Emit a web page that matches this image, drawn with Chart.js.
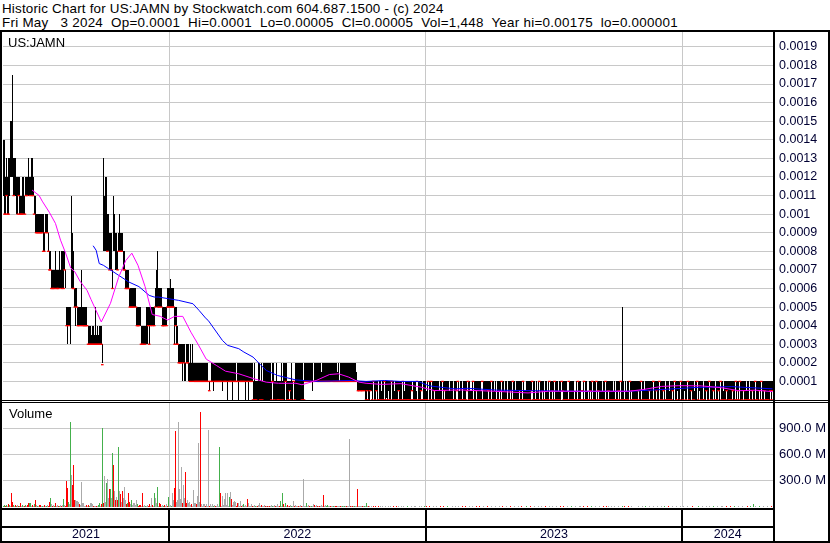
<!DOCTYPE html>
<html>
<head>
<meta charset="utf-8">
<script src="https://cdn.jsdelivr.net/npm/chart.js@4.4.1/dist/chart.umd.min.js"></script>
<style>
  body { margin: 0; background: #fff; }
  #wrap { position: relative; width: 830px; height: 543px; overflow: hidden; font-family: "Liberation Sans", Arial, sans-serif; }
  .tl { position: absolute; left: 2px; font-size: 13.4px; line-height: 13.5px; white-space: pre; color: #000; }
  .ln { position: absolute; background: #000; z-index: 4; }
  .lbl { position: absolute; font-size: 13px; line-height: 13px; color: #000; z-index: 3; }
  canvas { position: absolute; left: 0; }
</style>
</head>
<body>
<div id="wrap">
  <div class="tl" style="top:2px;letter-spacing:0.19px">Historic Chart for US:JAMN by Stockwatch.com 604.687.1500 - (c) 2024</div>
  <div class="tl" style="top:15.5px;letter-spacing:0.27px">Fri May   3 2024  Op=0.0001  Hi=0.0001  Lo=0.00005  Cl=0.00005  Vol=1,448  Year hi=0.00175  lo=0.000001</div>
  <canvas id="price" width="830" height="368" style="top:32px"></canvas>
  <canvas id="vol" width="830" height="140" style="top:403px"></canvas>
  <div class="lbl" style="left:8px;top:36px">US:JAMN</div>
  <div class="lbl" style="left:9px;top:407px">Volume</div>
  <div class="ln" style="left:0;top:30px;width:830px;height:2px"></div>
  <div class="ln" style="left:0;top:30px;width:2px;height:513px"></div>
  <div class="ln" style="left:828px;top:30px;width:2px;height:513px"></div>
  <div class="ln" style="left:773px;top:30px;width:2px;height:513px"></div>
  <div class="ln" style="left:0;top:400px;width:830px;height:1px"></div>
  <div class="ln" style="left:0;top:402px;width:830px;height:1px"></div>
  <div class="ln" style="left:0;top:541px;width:830px;height:2px"></div>
</div>
<script>
// prices in units of 0.00001, one entry per trading day (late Apr 2021 .. May 3 2024)
const UNIT = 0.00001;

const hi = [
  140,140,120,130,120,130,130,150,150,175,130,130,130,120,120,120,120,110,110,120,
  120,110,120,120,120,130,120,130,130,120,110,110,100,100,100,100,100,100,100,100,
  90,100,100,100,90,80,80,70,70,70,70,80,70,70,70,80,70,80,80,80,
  80,70,50,50,50,50,50,110,90,80,60,60,60,50,50,50,50,70,50,50,
  50,50,40,40,40,40,35,40,40,35,50,35,40,35,40,40,40,30,130,110,
  120,120,100,100,90,90,90,70,110,100,90,90,80,90,100,90,90,90,80,80,
  70,70,70,70,60,60,60,60,60,60,60,50,50,50,50,40,40,40,40,40,
  50,50,50,50,50,50,50,50,50,60,70,80,60,60,60,60,50,50,50,50,
  50,60,60,60,65,60,60,60,50,50,50,40,30,30,30,30,30,30,30,20,
  30,30,30,20,30,20,30,20,20,20,20,20,20,20,20,20,20,20,20,20,
  20,10,10,10,20,20,20,20,20,20,20,20,20,20,20,20,20,20,20,20,
  20,20,20,20,20,20,20,20,20,10,20,20,20,20,20,20,20,20,20,20,
  20,20,20,20,20,10,20,10,10,10,20,20,10,20,10,20,20,20,20,20,
  20,20,20,10,20,20,10,10,20,10,10,10,10,20,10,20,20,20,20,10,
  10,10,10,20,10,10,10,20,20,20,20,20,20,20,20,10,20,20,20,20,
  20,20,20,20,10,20,20,20,20,20,20,20,15,20,20,20,20,20,20,20,
  20,20,20,20,20,20,20,20,15,20,10,20,20,20,20,20,20,20,20,20,
  20,20,20,20,20,20,20,15,10,10,10,10,10,10,10,10,10,10,10,10,
  10,10,10,10,10,10,10,10,0.1,10,10,5,10,10,10,10,10,10,10,10,
  10,10,10,10,5,10,10,10,10,10,10,10,10,10,5,10,10,10,10,10,
  10,10,0.1,10,10,5,10,10,10,10,10,0.1,10,10,10,5,10,10,10,10,
  10,10,10,10,10,10,10,10,5,10,10,10,10,10,10,10,10,10,5,10,
  10,10,0.1,10,10,10,10,10,5,10,10,0.1,10,10,10,10,10,10,10,5,
  10,10,10,10,10,10,10,10,10,5,10,10,10,10,10,10,10,10,10,10,
  10,10,5,10,0.1,10,10,10,10,10,10,10,5,10,10,0.1,10,10,10,10,
  10,10,10,5,10,10,10,10,10,10,10,10,5,10,10,10,10,10,10,10,
  10,10,0.1,10,5,10,10,10,10,10,10,0.1,10,10,5,10,10,10,10,10,
  10,10,10,10,10,5,10,10,10,10,10,10,10,10,5,10,10,10,10,10,
  10,0.1,5,10,10,10,10,0.1,5,10,10,10,10,5,0.1,10,10,10,10,10,
  10,10,10,10,10,10,10,10,5,10,10,10,10,10,10,10,10,10,10,5,
  10,0.1,10,10,10,10,10,10,50,10,0.1,10,5,10,10,10,10,10,10,10,
  10,10,10,10,10,10,10,10,10,5,10,10,10,10,10,10,10,10,10,10,
  10,10,10,10,10,10,10,10,10,10,0.1,10,10,10,5,10,10,10,10,10,
  10,10,10,10,10,10,10,10,10,10,10,10,10,10,10,10,10,10,5,10,
  10,10,10,10,10,10,10,0.1,10,10,10,10,10,10,10,10,10,10,10,0.1,
  10,10,10,10,10,10,10,5,10,10,10,10,10,10,10,10,10,10,10,10,
  10,10,10,10,10,10,10,10,10,5,10,10,0.1,10,10,10,10,10,10,10,
  10,10,10,10,10,10,10,10,10,10,10,10,10,10,10,10
];

const lo = [
  110,100,100,110,100,100,110,120,120,120,110,110,110,100,100,110,100,100,100,100,
  100,100,110,110,110,110,110,110,110,110,100,90,90,90,90,90,90,90,90,80,
  80,90,90,90,80,70,70,60,60,60,60,60,60,60,60,60,60,60,60,60,
  70,60,40,30,40,40,30,60,60,60,50,40,50,40,40,40,40,40,40,40,
  40,40,40,30,30,30,30,30,30,30,30,30,30,30,30,30,30,20,80,80,
  80,80,80,80,70,70,70,60,80,80,70,70,70,80,80,80,80,80,70,70,
  60,60,60,60,50,50,50,50,50,50,50,40,40,40,40,30,30,30,30,30,
  30,30,40,30,40,40,40,40,40,50,50,50,50,50,50,50,40,40,40,40,
  40,50,50,50,50,50,50,50,30,40,30,30,20,20,20,20,10,20,10,10,
  20,20,10,10,10,10,10,10,10,10,10,10,10,10,10,10,10,10,10,10,
  10,10,5,10,10,10,5,10,10,10,10,10,10,10,10,5,10,10,10,10,
  0.1,10,10,10,10,0.1,10,10,10,10,10,0.1,10,10,10,10,10,10,0.1,10,
  10,0.1,10,10,10,0.1,0.1,0.1,0.1,0.1,0.1,0.1,0.1,0.1,0.1,0.1,0.1,0.1,0.1,0.1,
  0.1,0.1,0.1,0.1,10,0.1,0.1,0.1,0.1,0.1,0.1,0.1,0.1,0.1,0.1,0.1,0.1,10,0.1,0.1,
  0.1,5,0.1,0.1,0.1,10,0.1,0.1,0.1,0.1,0.1,0.1,0.1,0.1,0.1,0.1,10,10,10,10,
  10,10,10,5,10,10,10,10,10,10,10,10,10,10,10,10,10,10,10,10,
  10,10,10,10,10,10,10,10,10,10,10,10,10,10,10,10,10,10,10,10,
  10,10,10,10,10,10,10,10,5,5,5,5,5,5,5,0.1,0.1,5,0.1,0.1,
  5,5,0.1,10,0.1,0.1,5,0.1,0.1,0.1,0.1,0.1,0.1,0.1,10,0.1,1,0.1,5,0.1,
  0.1,10,0.1,0.1,0.1,0.1,0.1,0.1,5,0.1,0.1,0.1,10,0.1,0.1,0.1,0.1,0.1,0.1,0.1,
  0.1,5,0.1,0.1,0.1,0.1,10,0.1,0.1,0.1,5,0.1,0.1,0.1,0.1,0.1,0.1,10,0.1,0.1,
  10,0.1,0.1,5,0.1,0.1,0.1,0.1,0.1,0.1,0.1,10,0.1,5,0.1,0.1,0.1,0.1,0.1,0.1,
  0.1,0.1,0.1,0.1,0.1,5,10,0.1,0.1,0.1,0.1,0.1,0.1,0.1,0.1,5,10,0.1,0.1,0.1,
  0.1,10,0.1,0.1,5,0.1,0.1,0.1,0.1,0.1,10,0.1,0.1,0.1,0.1,0.1,5,0.1,0.1,10,
  0.1,0.1,0.1,0.1,0.1,0.1,0.1,5,0.1,10,0.1,0.1,0.1,0.1,0.1,0.1,0.1,0.1,5,0.1,
  10,0.1,0.1,0.1,0.1,0.1,0.1,5,0.1,0.1,10,0.1,0.1,0.1,0.1,0.1,0.1,0.1,5,10,
  0.1,0.1,0.1,0.1,0.1,0.1,10,0.1,0.1,5,0.1,0.1,0.1,0.1,0.1,0.1,10,0.1,0.1,5,
  0.1,10,0.1,0.1,0.1,0.1,0.1,0.1,10,5,0.1,0.1,0.1,0.1,0.1,10,0.1,0.1,0.1,0.1,
  0.1,0.1,0.1,0.1,10,0.1,0.1,0.1,5,0.1,10,0.1,0.1,0.1,0.1,0.1,5,0.1,10,0.1,
  0.1,0.1,10,0.1,5,0.1,0.1,0.1,0.1,0.1,0.1,10,0.1,0.1,5,0.1,0.1,0.1,0.1,0.1,
  0.1,0.1,0.1,0.1,5,0.1,10,0.1,0.1,0.1,0.1,0.1,0.1,0.1,0.1,10,0.1,5,0.1,0.1,
  0.1,0.1,0.1,5,0.1,0.1,10,0.1,0.1,0.1,0.1,0.1,0.1,0.1,5,0.1,0.1,0.1,10,0.1,
  0.1,5,0.1,0.1,10,0.1,0.1,0.1,5,0.1,0.1,0.1,0.1,0.1,0.1,0.1,0.1,5,0.1,10,
  0.1,0.1,5,0.1,0.1,10,0.1,0.1,0.1,5,0.1,0.1,10,0.1,0.1,5,0.1,0.1,0.1,0.1,
  0.1,10,0.1,5,0.1,0.1,0.1,0.1,0.1,0.1,5,0.1,0.1,10,0.1,0.1,0.1,5,0.1,0.1,
  0.1,0.1,5,0.1,10,0.1,0.1,0.1,0.1,0.1,5,0.1,0.1,0.1,0.1,0.1,5,0.1,0.1,10,
  0.1,5,0.1,10,0.1,0.1,0.1,5,0.1,0.1,0.1,0.1,0.1,0.1,0.1,5,0.1,0.1,10,0.1,
  0.1,0.1,5,0.1,10,0.1,0.1,5,0.1,0.1,0.1,0.1,0.1,5,0.1,5
];

const cl = [
  120,100,100,110,100,100,120,130,130,130,110,120,120,110,100,110,100,100,100,100,
  110,100,110,110,120,120,110,120,110,110,100,100,90,90,90,90,90,90,90,80,
  80,90,95,90,80,70,70,60,60,60,60,70,60,60,60,70,70,60,70,60,
  70,70,40,40,40,50,40,70,60,60,50,50,50,40,40,50,40,50,40,40,
  40,40,40,30,30,30,30,30,30,30,30,30,30,30,30,30,30,19,90,90,
  100,90,80,90,70,80,70,60,100,90,80,80,70,80,90,80,80,90,70,70,
  60,60,60,60,50,50,50,50,50,60,50,40,40,40,50,30,30,30,40,30,
  40,40,40,30,40,50,40,50,40,50,60,60,50,50,60,50,40,40,40,50,
  40,50,50,50,50,50,50,50,30,40,30,30,20,20,20,20,20,20,20,20,
  20,20,20,10,20,10,20,10,10,10,10,10,10,10,10,10,10,10,10,10,
  10,10,5,10,10,10,10,10,10,10,10,10,10,10,10,10,10,10,10,10,
  10,10,10,10,10,10,10,10,10,10,10,10,10,10,10,10,10,10,10,10,
  10,10,10,10,10,0.1,10,0.1,0.1,5,10,10,0.1,10,0.1,10,10,10,10,10,
  10,10,10,0.1,10,10,0.1,5,10,0.1,0.1,5,0.1,10,0.1,10,10,10,10,0.1,
  0.1,5,0.1,10,5,10,0.1,10,10,10,10,10,10,0.1,10,0.1,10,10,10,10,
  10,10,10,10,10,10,10,20,10,10,10,10,10,10,10,10,10,10,10,10,
  10,10,15,10,10,10,10,10,10,10,10,10,10,10,10,10,10,10,10,10,
  10,10,10,10,10,10,10,10,5,5,10,5,5,10,5,5,0.1,5,0.1,5,
  5,10,0.1,10,5,0.1,5,10,0.1,0.1,5,0.1,10,0.1,10,0.1,5,0.1,10,0.1,
  0.1,10,5,0.1,0.1,10,0.1,0.1,5,0.1,5,0.1,10,0.1,0.1,5,0.1,0.1,0.1,5,
  0.1,5,0.1,0.1,5,0.1,10,0.1,10,0.1,5,0.1,0.1,5,0.1,0.1,0.1,10,5,0.1,
  10,0.1,5,5,0.1,0.1,0.1,10,0.1,0.1,5,10,0.1,5,0.1,0.1,0.1,5,0.1,0.1,
  0.1,5,0.1,0.1,0.1,5,10,0.1,0.1,5,0.1,0.1,0.1,5,0.1,5,10,0.1,0.1,0.1,
  0.1,10,0.1,5,5,0.1,0.1,0.1,0.1,0.1,10,0.1,5,0.1,0.1,0.1,5,0.1,0.1,10,
  0.1,0.1,0.1,5,0.1,0.1,0.1,5,0.1,10,0.1,5,0.1,0.1,0.1,0.1,0.1,0.1,5,0.1,
  10,0.1,0.1,0.1,5,0.1,0.1,5,0.1,0.1,10,0.1,0.1,0.1,5,0.1,0.1,0.1,5,10,
  0.1,0.1,0.1,0.1,0.1,0.1,10,0.1,5,5,0.1,0.1,0.1,0.1,0.1,0.1,10,0.1,0.1,5,
  0.1,10,0.1,0.1,0.1,0.1,0.1,5,10,5,0.1,0.1,0.1,0.1,0.1,10,0.1,0.1,0.1,0.1,
  0.1,0.1,0.1,0.1,10,0.1,0.1,0.1,5,0.1,10,0.1,0.1,0.1,0.1,0.1,5,0.1,10,0.1,
  0.1,5,10,0.1,5,0.1,0.1,0.1,0.1,0.1,5,10,0.1,0.1,5,0.1,0.1,0.1,0.1,0.1,
  0.1,0.1,0.1,0.1,5,0.1,10,0.1,5,0.1,0.1,0.1,0.1,0.1,5,10,0.1,5,0.1,0.1,
  0.1,0.1,0.1,5,0.1,10,10,0.1,5,0.1,0.1,10,0.1,0.1,5,0.1,10,0.1,10,0.1,
  10,5,0.1,10,10,0.1,10,0.1,5,10,0.1,0.1,10,0.1,0.1,10,0.1,5,10,10,
  10,0.1,10,10,0.1,10,10,0.1,10,10,0.1,10,10,0.1,10,5,10,0.1,0.1,10,
  10,10,0.1,10,10,0.1,10,0.1,0.1,10,5,10,0.1,10,10,0.1,10,5,0.1,0.1,
  10,0.1,5,10,10,0.1,10,0.1,10,0.1,5,10,0.1,0.1,10,0.1,5,10,0.1,10,
  0.1,5,0.1,10,10,0.1,5,5,0.1,0.1,10,0.1,0.1,0.1,5,5,0.1,10,10,0.1,
  0.1,10,5,0.1,10,0.1,10,5,0.1,0.1,0.1,0.1,5,5,0.1,5
];

// daily volume in millions of shares, and direction: 1 up (green), -1 down (red), 0 unchanged (grey)
const vol = [
  15,20,10,25,15,30,20,15,154,60,20,15,25,10,20,15,10,50,15,20,
  15,10,20,15,25,50,40,15,20,10,35,77,20,15,10,20,25,15,10,15,
  20,15,10,20,15,58,108,30,15,20,10,50,15,25,15,10,20,15,20,96,
  25,15,292,212,60,30,973,365,246,477,80,85,70,70,60,30,25,281,50,50,
  15,20,10,20,15,40,50,30,15,10,10,15,10,20,50,15,30,904,50,350,
  60,277,315,100,200,204,100,615,477,180,85,110,80,685,177,150,60,185,100,231,
  80,30,50,165,60,30,85,20,40,40,20,85,30,15,25,10,165,15,20,15,
  10,20,15,30,10,108,25,15,154,108,40,231,15,40,38,10,25,15,20,10,
  30,15,115,10,20,15,154,80,215,869,60,80,973,200,90,458,50,250,100,396,
  50,80,50,60,20,30,15,192,40,30,120,730,60,1088,30,15,30,30,15,30,
  15,880,10,30,10,30,15,25,10,15,30,10,680,154,15,120,20,90,154,20,
  165,15,110,170,95,20,60,65,60,15,40,50,15,70,10,25,30,10,20,15,
  96,40,10,30,10,15,20,10,15,10,25,40,10,20,15,10,25,10,15,15,
  10,15,10,20,10,15,20,10,15,30,10,15,70,10,154,30,15,40,10,20,
  10,15,20,10,15,65,10,20,10,15,15,10,20,10,15,323,10,50,15,20,
  15,10,10,15,30,20,10,25,10,15,15,10,20,10,135,10,20,10,20,10,
  15,8,10,10,8,10,8,10,10,8,10,8,10,8,10,10,8,10,8,10,
  777,8,10,10,8,10,8,10,200,8,10,10,8,10,8,10,40,8,10,8,
  5,8,3,6,4,10,5,3,7,4,6,3,8,5,4,6,3,5,7,4,
  6,4,5,8,3,5,6,4,7,3,5,8,4,6,3,5,4,7,5,3,
  4,6,3,5,7,4,5,3,6,4,8,5,3,15,4,6,5,3,7,4,
  5,3,6,4,5,7,3,5,4,6,3,5,8,4,5,3,6,4,5,3,
  4,6,5,3,7,4,5,6,3,5,4,6,3,5,7,4,3,5,6,4,
  6,3,5,4,6,3,5,7,4,5,3,6,4,5,3,6,4,5,3,7,
  3,5,4,6,3,5,4,7,3,5,6,4,5,3,6,4,5,3,7,4,
  5,4,6,3,5,4,6,3,5,7,4,5,3,6,4,5,3,6,4,5,
  4,6,3,5,4,7,3,5,6,4,5,3,6,4,5,3,7,4,5,6,
  3,5,4,6,3,5,4,6,3,5,7,4,5,3,6,4,5,3,6,4,
  5,3,6,4,5,3,7,4,5,6,3,5,4,6,3,5,4,6,3,5,
  4,6,3,5,4,7,3,5,4,6,3,5,7,4,10,5,3,6,4,5,
  6,4,5,3,6,4,5,3,12,4,6,3,5,4,6,3,5,7,4,5,
  3,5,4,6,3,5,4,7,3,5,6,4,5,3,6,4,5,3,6,4,
  5,3,6,4,5,3,6,4,5,7,3,5,4,6,3,5,4,6,3,5,
  4,6,3,5,4,6,3,5,7,4,5,3,6,4,5,3,6,4,5,3,
  5,4,6,3,5,4,6,3,5,4,7,3,5,6,4,5,3,6,4,5,
  4,6,3,5,4,6,8,4,5,3,6,4,5,3,6,4,5,3,6,4,
  5,3,6,4,5,3,6,4,5,3,6,4,5,7,4,5,38,4,6,3,
  5,4,6,3,5,4,6,3,5,4,6,3,5,4,6,4
];

const volDir = [
  1,1,-1,1,0,-1,1,0,-1,-1,1,0,-1,1,0,-1,1,-1,0,1,
  0,-1,1,0,-1,-1,1,0,-1,0,1,-1,0,1,0,-1,-1,0,1,0,
  -1,0,1,0,-1,-1,1,0,-1,0,1,-1,0,0,-1,1,0,-1,0,1,
  0,-1,-1,-1,1,0,1,0,-1,-1,-1,0,0,0,0,-1,0,0,0,0,
  0,-1,0,-1,1,0,0,0,-1,0,0,-1,0,1,1,0,-1,1,-1,0,
  0,1,0,0,-1,1,0,1,-1,0,-1,0,-1,1,0,-1,0,-1,0,0,
  0,-1,1,-1,-1,0,1,0,0,0,0,0,1,-1,-1,0,-1,0,0,1,
  0,0,-1,-1,0,0,-1,0,1,0,0,1,0,-1,-1,0,0,1,-1,0,
  0,-1,1,0,0,1,0,0,-1,-1,0,0,0,0,0,0,-1,0,0,-1,
  -1,0,0,0,0,-1,0,0,0,-1,0,0,0,-1,0,0,0,0,-1,0,
  0,0,-1,0,0,0,1,0,-1,0,0,0,1,-1,0,0,0,0,0,0,
  0,0,1,0,-1,0,0,0,0,-1,-1,0,0,0,-1,0,1,0,0,0,
  -1,0,0,0,-1,0,0,1,0,-1,0,0,0,-1,0,0,0,-1,0,-1,
  0,-1,0,0,1,0,0,-1,0,0,0,-1,1,0,1,-1,0,1,0,-1,
  0,-1,0,1,0,0,-1,0,0,0,-1,0,0,-1,0,0,0,1,0,0,
  -1,0,1,0,0,-1,0,0,-1,0,-1,0,0,0,-1,0,0,1,1,0,
  0,-1,0,0,1,0,-1,-1,0,0,0,-1,0,1,0,1,0,-1,0,0,
  0,-1,0,-1,0,1,0,0,-1,0,0,0,-1,0,1,0,1,0,-1,0,
  -1,0,1,-1,0,-1,0,1,-1,0,0,-1,0,1,-1,0,-1,0,0,1,
  0,-1,0,-1,1,0,-1,0,0,-1,1,0,-1,0,0,-1,0,1,-1,0,
  -1,0,0,-1,0,1,-1,0,0,-1,0,-1,0,1,0,-1,0,0,-1,1,
  0,-1,0,1,-1,0,0,-1,0,-1,1,0,-1,0,0,-1,1,0,-1,0,
  -1,0,-1,0,0,1,-1,0,-1,0,0,-1,1,0,-1,0,0,-1,0,1,
  0,-1,0,0,-1,1,0,-1,0,-1,0,0,1,-1,0,-1,0,0,-1,0,
  -1,0,1,0,-1,0,-1,0,0,1,-1,0,-1,0,0,-1,1,0,-1,0,
  0,-1,0,-1,0,1,0,-1,0,-1,0,0,-1,1,0,-1,0,-1,0,0,
  -1,0,0,-1,1,0,-1,0,0,-1,0,1,-1,0,-1,0,0,1,-1,0,
  0,-1,0,0,-1,1,0,-1,0,0,-1,0,1,-1,0,0,-1,0,1,-1,
  0,-1,0,1,-1,0,0,-1,0,-1,0,1,0,-1,0,0,-1,1,0,-1,
  -1,0,0,1,-1,0,-1,0,0,-1,1,0,-1,0,0,-1,0,0,1,-1,
  0,-1,0,1,0,-1,0,-1,1,0,-1,0,0,1,-1,0,-1,0,0,1,
  -1,0,-1,0,1,0,-1,0,0,-1,1,0,-1,0,0,-1,0,1,0,-1,
  0,-1,0,1,-1,0,0,-1,0,1,-1,0,0,-1,1,0,-1,0,0,-1,
  -1,0,0,1,-1,0,0,-1,0,1,-1,0,0,-1,1,0,-1,0,0,1,
  0,-1,1,0,-1,0,0,1,-1,0,0,-1,1,0,-1,0,0,1,-1,0,
  -1,0,0,1,-1,0,0,-1,1,0,-1,0,0,1,-1,0,0,-1,1,0,
  0,-1,0,1,-1,0,0,-1,1,0,-1,0,0,1,-1,0,1,-1,0,0,
  -1,0,1,0,-1,0,0,1,-1,0,0,-1,1,0,-1,0
];

// moving averages (day index, price units)
const maFastDay = [28,35,38,45,51,56,61,66,70,75,82,86,91,96,105,113,120,126,132,139,
  146,154,161,168,176,184,191,199,209,218,231,246,258,270,287,293,307,320,329,339,
  349,356,371,390,410,423,449,482,515,535,580,614,629,646,663,685,705,722,738,755];
const maFastVal = [113,110,107,101,95,86,79,71,69,64,59,54,48,42,52,66,75,79,72.5,61,
  46,45,43,45,45,36.5,30,22,18.6,15.5,14.1,11.4,9.6,9,9,8.2,10.5,13.7,14.1,12.3,
  9.6,9,8.4,8.8,6.9,5.1,5.4,4.7,3.8,4.7,4.7,4.7,5.7,7.3,7.7,7.6,6.6,5.0,5.3,4.5];
const maSlowDay = [88,91,94,98,103,113,123,133,143,148,152,162,172,186,192,199,201,215,220,231,
  236,245,253,258,269,287,307,341,356,374,390,407,418,443,456,484,521,564,614,642,682,715,755];
const maSlowVal = [83,80.5,73.4,72.5,70.7,67.1,63.5,61,56.3,55.4,55.4,54.5,53.6,51.8,48.2,43.7,42.8,32,29.4,27.6,
  25.8,23.1,18.6,15.9,13.2,10.8,10,10.5,10,10.5,10,10,7.6,6,6.3,5.3,5,4.7,4.7,5.5,6.8,7.2,6];

// first trading day index of each new year, and the year labels
const yearStart = [163, 415, 667];
const yearLabels = ['2021', '2022', '2023', '2024'];

const priceTicks = [0.0001,0.0002,0.0003,0.0004,0.0005,0.0006,0.0007,0.0008,0.0009,0.001,
  0.0011,0.0012,0.0013,0.0014,0.0015,0.0016,0.0017,0.0018,0.0019];
const priceLabels = ['0.0001','0.0002','0.0003','0.0004','0.0005','0.0006','0.0007','0.0008','0.0009','0.001',
  '0.0011','0.0012','0.0013','0.0014','0.0015','0.0016','0.0017','0.0018','0.0019'];
const volTicks = [300, 600, 900];
const volLabels = ['300.0 M', '600.0 M', '900.0 M'];

const N = hi.length;
const FONT = '"Liberation Sans", Arial, sans-serif';
const GRID = '#c8c8c8';

const xAxis = (h) => ({
  type: 'linear', min: -0.5, max: N - 0.5, offset: false,
  grid: { color: GRID, drawTicks: false, offset: false },
  border: { display: false },
  ticks: { display: false },
  afterBuildTicks: s => { s.ticks = yearStart.map(d => ({ value: d - 0.5 })); },
  afterFit: s => { s.height = h; s.paddingLeft = 0; s.paddingRight = 0; }
});

const yAxis = (max, ticks, labels, size) => ({
  position: 'right', min: 0, max: max,
  grid: { color: GRID, drawTicks: false },
  border: { display: false },
  ticks: { padding: 6, color: '#000033', autoSkip: false, font: { family: FONT, size: size },
           callback: (v, i) => labels[i] },
  afterBuildTicks: s => { s.ticks = ticks.map(v => ({ value: v })); },
  afterFit: s => { s.width = 57; s.paddingTop = 0; s.paddingBottom = 0; }
});

// one bar per trading day, snapped to whole pixels so neighbouring days join cleanly
const snapBars = {
  id: 'snapBars',
  afterDatasetsUpdate(chart) {
    const xs = chart.scales.x;
    chart.data.datasets.forEach((ds, k) => {
      const meta = chart.getDatasetMeta(k);
      if (meta.type !== 'bar') return;
      meta.data.forEach((el, i) => {
        const day = ds.data[i].x;
        const l = Math.round(xs.getPixelForValue(day - 0.5));
        const r = Math.round(xs.getPixelForValue(day + 0.5));
        el.x = (l + r) / 2;
        el.width = Math.max(1, r - l);
        el.y = Math.round(el.y);
        el.base = Math.round(el.base);
      });
    });
  }
};

const common = {
  responsive: false, animation: false, devicePixelRatio: 1,
  layout: { padding: { left: 3, right: 0, top: 0, bottom: 0 }, autoPadding: false },
  plugins: { legend: { display: false }, tooltip: { enabled: false } }
};

// red close tick where the day closed at its low, or traded at a single price
const closePts = [];
cl.forEach((c, i) => { if (c <= lo[i] || hi[i] === lo[i]) closePts.push({ x: i, y: c * UNIT }); });

new Chart(document.getElementById('price'), {
  type: 'bar',
  data: {
    datasets: [
      { type: 'line', data: maFastDay.map((d, i) => ({ x: d, y: maFastVal[i] * UNIT })),
        borderColor: '#ff00ff', borderWidth: 1, pointRadius: 0, tension: 0, order: 0 },
      { type: 'line', data: maSlowDay.map((d, i) => ({ x: d, y: maSlowVal[i] * UNIT })),
        borderColor: '#0000ff', borderWidth: 1, pointRadius: 0, tension: 0, order: 0 },
      { type: 'scatter', data: closePts, pointStyle: 'line', radius: 1.3,
        borderColor: '#ff0000', borderWidth: 1.3, order: 1 },
      { type: 'bar', data: hi.map((h, i) => ({ x: i, y: [lo[i] * UNIT, h * UNIT] })),
        backgroundColor: '#000', order: 2 }
    ]
  },
  options: Object.assign({}, common, {
    scales: { x: xAxis(0), y: yAxis(0.00198, priceTicks, priceLabels, 12.5) }
  }),
  plugins: [snapBars]
});

const yearBand = {
  id: 'yearBand',
  afterDraw(chart) {
    const { ctx, chartArea: a, scales: { x } } = chart;
    const edges = [a.left].concat(yearStart.map(d => x.getPixelForValue(d - 0.5)), [a.right]);
    ctx.save();
    ctx.fillStyle = '#000';
    ctx.fillRect(0, a.bottom + 1, a.right, 2);
    ctx.fillRect(0, a.bottom + 19, a.right, 2);
    edges.slice(1, -1).forEach(px => ctx.fillRect(Math.round(px) - 1, a.bottom + 1, 2, 36));
    ctx.font = '12.5px ' + FONT;
    ctx.textAlign = 'center';
    ctx.textBaseline = 'middle';
    ctx.fillStyle = '#000033';
    yearLabels.forEach((t, i) => ctx.fillText(t, (edges[i] + edges[i + 1]) / 2, a.bottom + 28));
    ctx.restore();
  }
};

new Chart(document.getElementById('vol'), {
  type: 'bar',
  data: {
    datasets: [{
      data: vol.map((v, i) => ({ x: i, y: v })),
      backgroundColor: volDir.map(d => d > 0 ? '#44b04c' : d < 0 ? '#ff0000' : '#aaaaaa')
    }]
  },
  options: Object.assign({}, common, {
    scales: { x: xAxis(36), y: yAxis(1186, volTicks, volLabels, 13) }
  }),
  plugins: [snapBars, yearBand]
});
</script>
</body>
</html>
